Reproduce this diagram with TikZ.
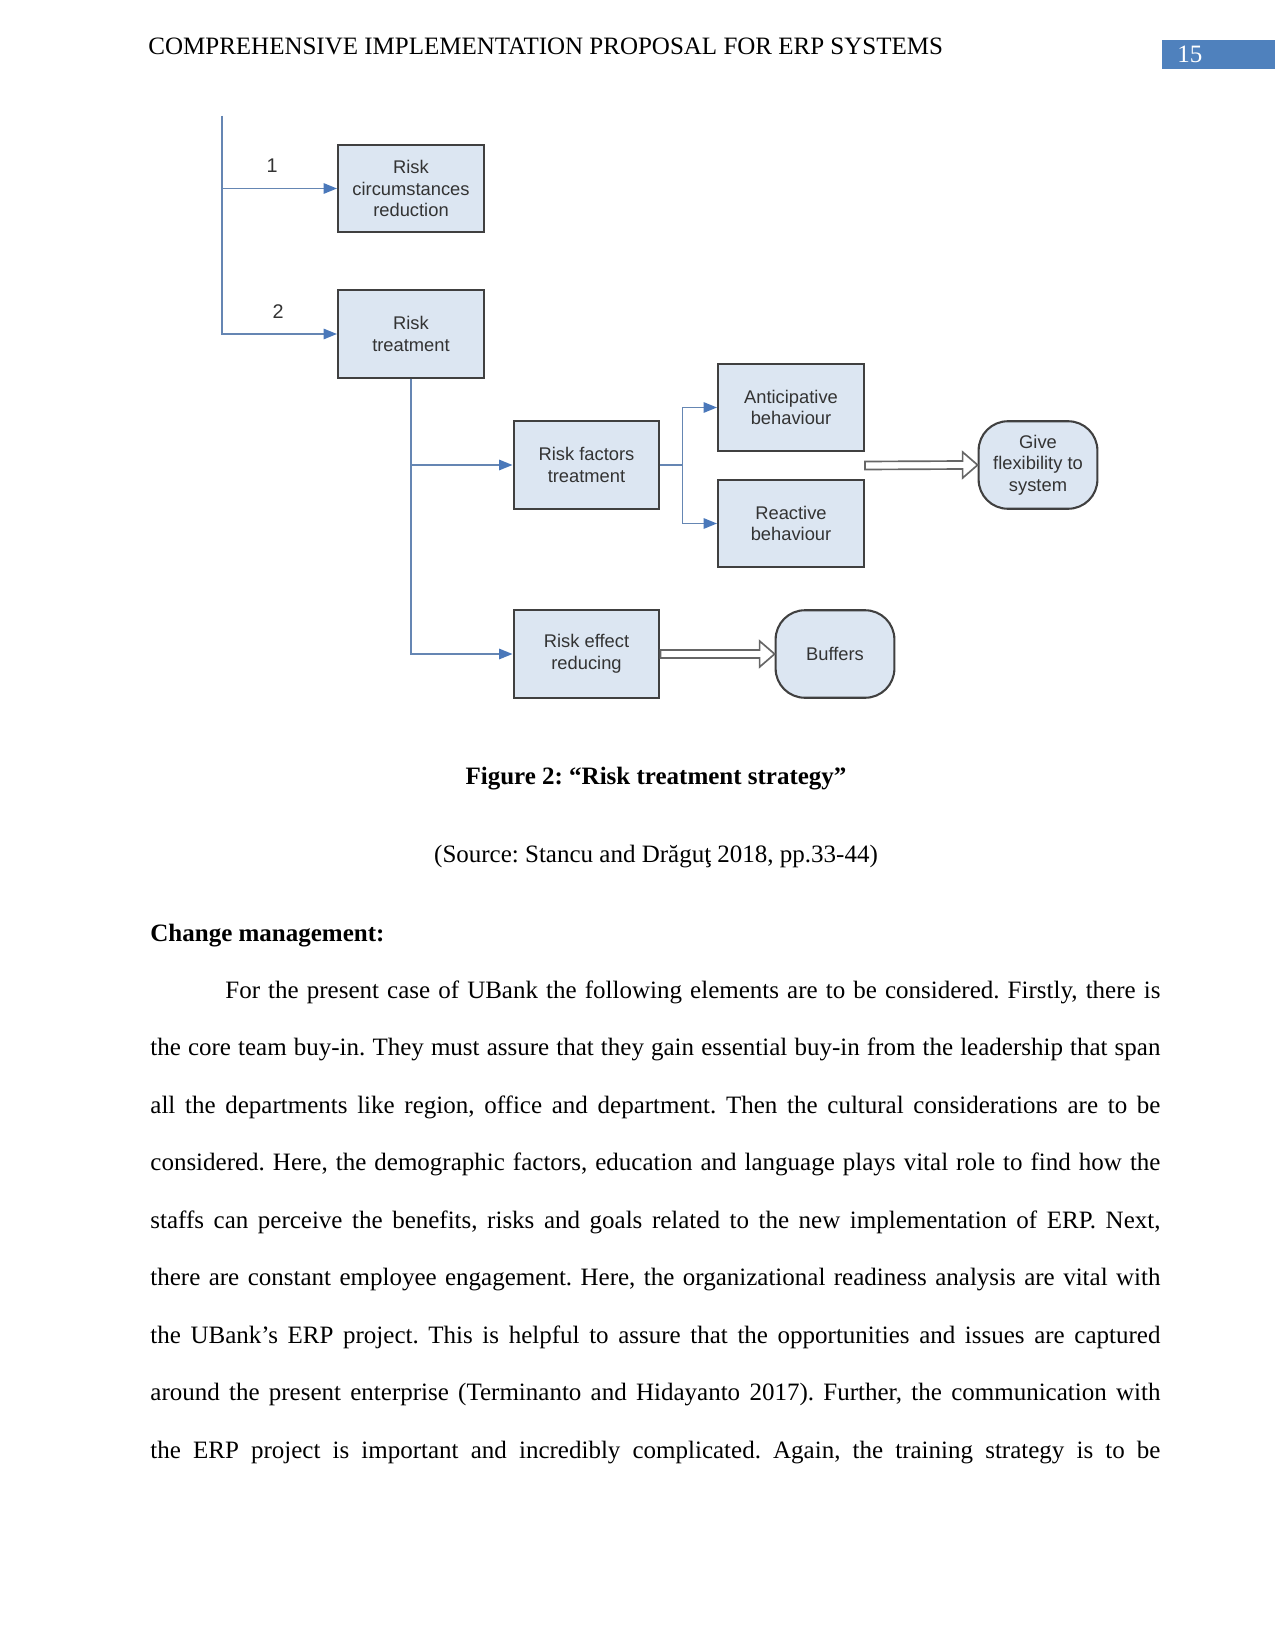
\documentclass[tikz,border=0pt]{standalone}
\usepackage{fontspec}
\setmainfont{Liberation Serif}
\newfontfamily\diagfont{Liberation Sans}
\usepackage{xcolor}
\usepackage{tikz}
\usetikzlibrary{arrows.meta,calc}
\definecolor{RTBox}{HTML}{DCE6F2}
\definecolor{RTEdge}{HTML}{404040}
\definecolor{RTFlow}{HTML}{6586B3}
\definecolor{RTTip}{HTML}{4A78BA}
\definecolor{RTHead}{HTML}{4F81BD}
\frenchspacing

\begin{document}
\begin{tikzpicture}[x=0.48pt,y=-0.48pt,
  stepbox/.style={draw=RTEdge,line width=1pt,fill=RTBox,minimum width=70pt,minimum height=42pt,
    align=center,inner sep=0pt,font=\diagfont\fontsize{8.8}{10.4}\selectfont,text=black!80},
  endbox/.style={stepbox,rounded corners=14pt,minimum width=57pt},
  numlabel/.style={font=\diagfont\fontsize{9.5}{11}\selectfont,text=black!80,inner sep=0pt},
  flow/.style={RTFlow,line width=0.9pt,-{Triangle[length=6.5pt,width=5pt,fill=RTTip,color=RTTip]}},
  blockarrow/.style={draw=black!60,line width=0.8pt,fill=white,line join=miter},
  pagetext/.style={anchor=base west,inner sep=0pt,font=\fontsize{12}{14}\selectfont}]
\path[use as bounding box] (0,0) rectangle (1275,1651);
% header
\node[pagetext] (head) at (148,55) {COMPREHENSIVE IMPLEMENTATION PROPOSAL FOR ERP SYSTEMS};
\fill[RTHead] (1162,40) rectangle (1275,69.5);
\node[pagetext,text=white] (pgno) at (1177,63) {15};
% diagram
\coordinate (top) at (222,116);
\node[stepbox] (rcr) at (411,188.5) {Risk\\circumstances\\reduction};
\node[stepbox] (rtr) at (411,334) {Risk\\treatment};
\node[stepbox] (rft) at (586.5,465) {Risk factors\\treatment};
\node[stepbox] (rer) at (586.5,654) {Risk effect\\reducing};
\node[stepbox] (ant) at (791,407.5) {Anticipative\\behaviour};
\node[stepbox] (rea) at (791,523.5) {Reactive\\behaviour};
\node[endbox] (give) at (1038,465) {Give\\flexibility to\\system};
\node[endbox] (buf) at (835,654) {Buffers};
\node[numlabel] (n1) at (272,166) {1};
\node[numlabel] (n2) at (278,312) {2};
\draw[flow] (top) |- (rcr.west);
\draw[flow] (top) |- (rtr.west);
\draw[flow] (rtr.south) |- (rft.west);
\draw[flow] (rtr.south) |- (rer.west);
\coordinate (fork) at ($(rft.east)+(22,0)$);
\draw[RTFlow,line width=0.9pt] (rft.east) -- (fork);
\draw[flow] (fork) |- (ant.west);
\draw[flow] (fork) |- (rea.west);
% hollow block arrows
\coordinate (fa) at ($(ant.south east)!.5!(rea.north east)$);
\draw[blockarrow] ($(fa)+(0,-4)$) -- ($(give.west)+(-15,-4)$) -- ($(give.west)+(-15,-13)$) -- (give.west)
  -- ($(give.west)+(-15,13)$) -- ($(give.west)+(-15,4)$) -- ($(fa)+(0,4)$) -- cycle;
\draw[blockarrow] ($(rer.east)+(0,-4)$) -- ($(buf.west)+(-15,-4)$) -- ($(buf.west)+(-15,-13)$) -- (buf.west)
  -- ($(buf.west)+(-15,13)$) -- ($(buf.west)+(-15,4)$) -- ($(rer.east)+(0,4)$) -- cycle;
% caption and text
\node[pagetext,anchor=base,font=\fontsize{12}{14}\selectfont\bfseries] (cap) at (656,784) {Figure 2: “Risk treatment strategy”};
\node[pagetext,anchor=base] (src) at (656,862) {(Source: Stancu and Drăguţ 2018, pp.33-44)};
\node[pagetext,font=\fontsize{12}{14}\selectfont\bfseries] (cm) at (150,941) {Change management:};
\node[pagetext] (l1) at (225,998) {\makebox[448.8pt][s]{For the present case of UBank the following elements are to be considered. Firstly, there is}};
\node[pagetext] (l2) at (150,1055.5) {\makebox[484.8pt][s]{the core team buy-in. They must assure that they gain essential buy-in from the leadership that span}};
\node[pagetext] (l3) at (150,1113) {\makebox[484.8pt][s]{all the departments like region, office and department. Then the cultural considerations are to be}};
\node[pagetext] (l4) at (150,1170.5) {\makebox[484.8pt][s]{considered. Here, the demographic factors, education and language plays vital role to find how the}};
\node[pagetext] (l5) at (150,1228) {\makebox[484.8pt][s]{staffs can perceive the benefits, risks and goals related to the new implementation of ERP. Next,}};
\node[pagetext] (l6) at (150,1285.5) {\makebox[484.8pt][s]{there are constant employee engagement. Here, the organizational readiness analysis are vital with}};
\node[pagetext] (l7) at (150,1343) {\makebox[484.8pt][s]{the UBank’s ERP project. This is helpful to assure that the opportunities and issues are captured}};
\node[pagetext] (l8) at (150,1400.5) {\makebox[484.8pt][s]{around the present enterprise (Terminanto and Hidayanto 2017). Further, the communication with}};
\node[pagetext] (l9) at (150,1458) {\makebox[484.8pt][s]{the ERP project is important and incredibly complicated. Again, the training strategy is to be}};
\end{tikzpicture}
\end{document}
